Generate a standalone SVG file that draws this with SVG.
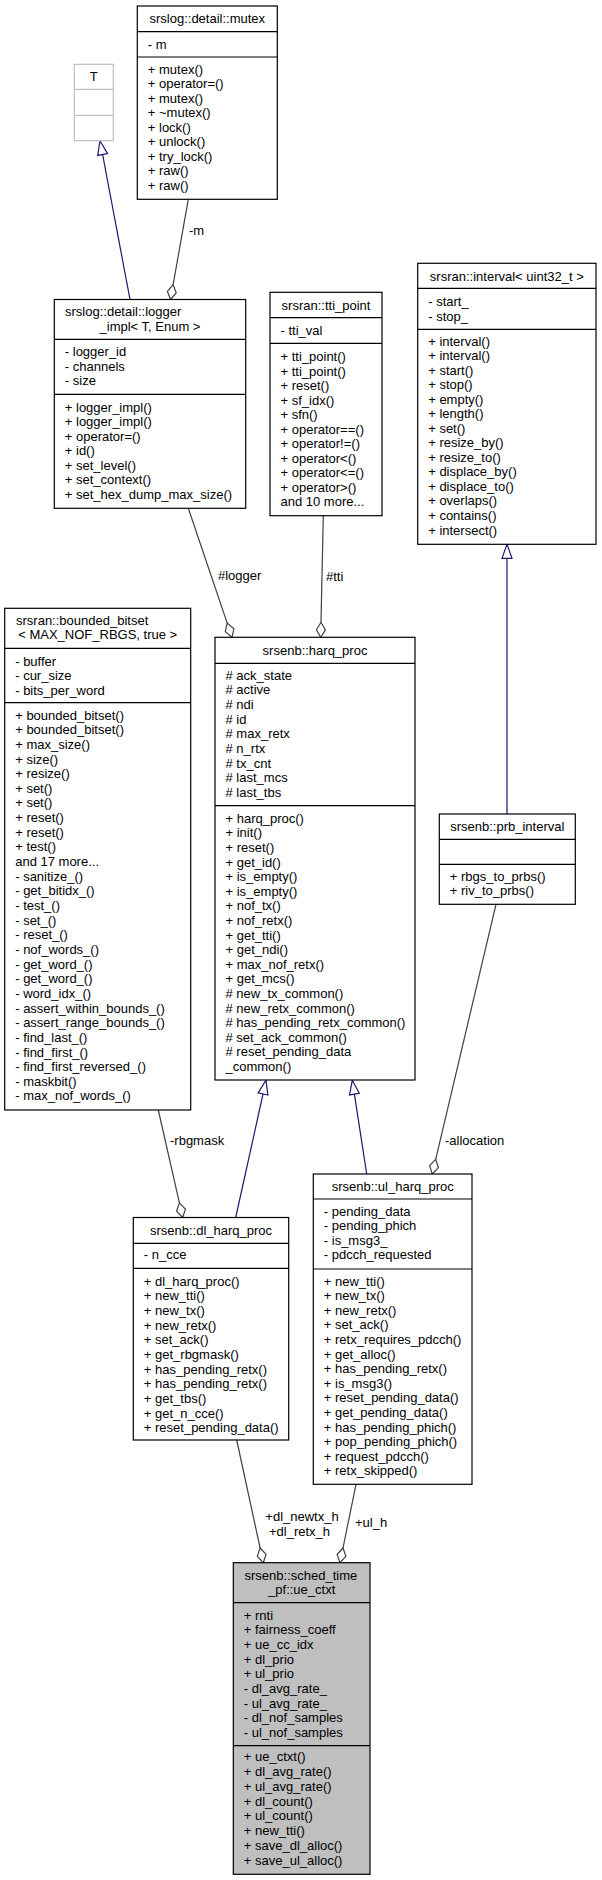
<svg xmlns="http://www.w3.org/2000/svg" width="602" height="1880" viewBox="0 0 602 1880">
<style>
text{font-family:"Liberation Sans",Arial,sans-serif;font-size:13px;fill:#000}
.m{text-anchor:middle}
.box{fill:#fff;stroke:#000;stroke-width:1.2}
.sep{stroke:#000;stroke-width:1.2}
.gbox{fill:#fff;stroke:#bfbfbf;stroke-width:1.2}
.gsep{stroke:#bfbfbf;stroke-width:1.2}
.cur{fill:#bfbfbf;stroke:#000;stroke-width:1.2}
.use{fill:none;stroke:#404040;stroke-width:1.2}
.usehd{fill:#fff;stroke:#404040;stroke-width:1.2}
.inh{fill:none;stroke:#191970;stroke-width:1.2}
.inhhd{fill:#fff;stroke:#191970;stroke-width:1.2}
</style>
<rect width="602" height="1880" fill="#fff"/>

<g id="connectors">
  <!-- T -> logger_impl (inheritance) -->
  <line class="inh" x1="102.6" y1="154.5" x2="130" y2="299.5"/>
  <polygon class="inhhd" points="100,140.7 107.5,153.6 97.7,155.4"/>
  <!-- mutex -> logger_impl (-m) -->
  <line class="use" x1="188.3" y1="199.3" x2="173.1" y2="284.7"/>
  <polygon class="usehd" points="170.5,299.5 176.2,292.9 173.1,284.7 167.4,291.3"/>
  <text x="189" y="235">-m</text>
  <!-- logger_impl -> harq_proc (#logger) -->
  <line class="use" x1="188.3" y1="508.3" x2="227.2" y2="623.1"/>
  <polygon class="usehd" points="232,637.3 233.9,628.8 227.2,623.1 225.3,631.6"/>
  <text x="218" y="580">#logger</text>
  <!-- tti_point -> harq_proc (#tti) -->
  <line class="use" x1="323.3" y1="515.7" x2="321" y2="622.3"/>
  <polygon class="usehd" points="320.7,637.3 325.4,629.9 321,622.3 316.4,629.7"/>
  <text x="326" y="580.5">#tti</text>
  <!-- interval -> prb_interval (inheritance) -->
  <line class="inh" x1="507" y1="558.3" x2="507" y2="814"/>
  <polygon class="inhhd" points="507,544.3 512,558.3 502,558.3"/>
  <!-- prb_interval -> ul_harq_proc (-allocation) -->
  <line class="use" x1="496" y1="904.3" x2="435.7" y2="1159.4"/>
  <polygon class="usehd" points="432.3,1174 438.4,1167.7 435.7,1159.4 429.6,1165.7"/>
  <text x="445" y="1145">-allocation</text>
  <!-- harq_proc -> dl_harq_proc (inheritance) -->
  <line class="inh" x1="263" y1="1094" x2="235.7" y2="1217.5"/>
  <polygon class="inhhd" points="266,1080.3 267.9,1095.1 258.1,1092.9"/>
  <!-- harq_proc -> ul_harq_proc (inheritance) -->
  <line class="inh" x1="354.4" y1="1094.1" x2="366.7" y2="1174"/>
  <polygon class="inhhd" points="352.3,1080.3 359.3,1093.3 349.5,1094.9"/>
  <!-- bounded_bitset -> dl_harq_proc (-rbgmask) -->
  <line class="use" x1="158.3" y1="1110" x2="179.4" y2="1202.9"/>
  <polygon class="usehd" points="182.7,1217.5 185.4,1209.2 179.4,1202.9 176.6,1211.2"/>
  <text x="170" y="1145">-rbgmask</text>
  <!-- dl_harq_proc -> ue_ctxt -->
  <line class="use" x1="236.7" y1="1440" x2="260.1" y2="1548"/>
  <polygon class="usehd" points="263.3,1562.7 266.1,1554.4 260.1,1548 257.3,1556.3"/>
  <text class="m" x="302" y="1520.5">+dl_newtx_h</text>
  <text class="m" x="299.5" y="1535.5">+dl_retx_h</text>
  <!-- ul_harq_proc -> ue_ctxt -->
  <line class="use" x1="356" y1="1484.3" x2="343" y2="1548"/>
  <polygon class="usehd" points="340,1562.7 345.9,1556.3 343,1548 337.1,1554.5"/>
  <text x="355" y="1527">+ul_h</text>
</g>

<g id="node_mutex">
  <rect class="box" x="137.3" y="6" width="140" height="193.3"/>
  <line class="sep" x1="137.3" y1="31.7" x2="277.3" y2="31.7"/>
  <line class="sep" x1="137.3" y1="57" x2="277.3" y2="57"/>
  <text class="m" x="207.3" y="23.3">srslog::detail::mutex</text>
  <text x="147.8" y="48.5">- m</text>
  <text x="147.8" y="73.5">+ mutex()</text>
  <text x="147.8" y="88">+ operator=()</text>
  <text x="147.8" y="102.5">+ mutex()</text>
  <text x="147.8" y="117">+ ~mutex()</text>
  <text x="147.8" y="131.5">+ lock()</text>
  <text x="147.8" y="146">+ unlock()</text>
  <text x="147.8" y="160.5">+ try_lock()</text>
  <text x="147.8" y="175">+ raw()</text>
  <text x="147.8" y="189.5">+ raw()</text>
</g>

<g id="node_T">
  <rect class="gbox" x="74.3" y="64.3" width="39" height="76.4"/>
  <line class="gsep" x1="74.3" y1="89.3" x2="113.3" y2="89.3"/>
  <line class="gsep" x1="74.3" y1="115.3" x2="113.3" y2="115.3"/>
  <text class="m" x="93.8" y="81.3">T</text>
</g>

<g id="node_logger_impl">
  <rect class="box" x="54.3" y="299.5" width="191.4" height="208.8"/>
  <line class="sep" x1="54.3" y1="339.3" x2="245.7" y2="339.3"/>
  <line class="sep" x1="54.3" y1="394.3" x2="245.7" y2="394.3"/>
  <text x="65" y="316.2">srslog::detail::logger</text>
  <text class="m" x="150" y="331.2">_impl&lt; T, Enum &gt;</text>
  <text x="64.8" y="356.2">- logger_id</text>
  <text x="64.8" y="370.7">- channels</text>
  <text x="64.8" y="385.2">- size</text>
  <text x="64.8" y="411.8">+ logger_impl()</text>
  <text x="64.8" y="426.3">+ logger_impl()</text>
  <text x="64.8" y="440.8">+ operator=()</text>
  <text x="64.8" y="455.3">+ id()</text>
  <text x="64.8" y="469.8">+ set_level()</text>
  <text x="64.8" y="484.3">+ set_context()</text>
  <text x="64.8" y="498.8">+ set_hex_dump_max_size()</text>
</g>

<g id="node_tti_point">
  <rect class="box" x="270" y="292.3" width="112" height="223.4"/>
  <line class="sep" x1="270" y1="317.7" x2="382" y2="317.7"/>
  <line class="sep" x1="270" y1="343.3" x2="382" y2="343.3"/>
  <text class="m" x="326" y="309.5">srsran::tti_point</text>
  <text x="280.5" y="334.5">- tti_val</text>
  <text x="280.5" y="361.2">+ tti_point()</text>
  <text x="280.5" y="375.7">+ tti_point()</text>
  <text x="280.5" y="390.2">+ reset()</text>
  <text x="280.5" y="404.7">+ sf_idx()</text>
  <text x="280.5" y="419.2">+ sfn()</text>
  <text x="280.5" y="433.7">+ operator==()</text>
  <text x="280.5" y="448.2">+ operator!=()</text>
  <text x="280.5" y="462.7">+ operator&lt;()</text>
  <text x="280.5" y="477.2">+ operator&lt;=()</text>
  <text x="280.5" y="491.7">+ operator&gt;()</text>
  <text x="280.5" y="506.2">and 10 more...</text>
</g>

<g id="node_interval">
  <rect class="box" x="417.7" y="263.3" width="178.3" height="281"/>
  <line class="sep" x1="417.7" y1="288.3" x2="596" y2="288.3"/>
  <line class="sep" x1="417.7" y1="329.3" x2="596" y2="329.3"/>
  <text class="m" x="506.8" y="281.2">srsran::interval&lt; uint32_t &gt;</text>
  <text x="428.2" y="306.2">- start_</text>
  <text x="428.2" y="320.5">- stop_</text>
  <text x="428.2" y="345.5">+ interval()</text>
  <text x="428.2" y="360">+ interval()</text>
  <text x="428.2" y="374.6">+ start()</text>
  <text x="428.2" y="389.1">+ stop()</text>
  <text x="428.2" y="403.7">+ empty()</text>
  <text x="428.2" y="418.2">+ length()</text>
  <text x="428.2" y="432.7">+ set()</text>
  <text x="428.2" y="447.3">+ resize_by()</text>
  <text x="428.2" y="461.8">+ resize_to()</text>
  <text x="428.2" y="476.4">+ displace_by()</text>
  <text x="428.2" y="490.9">+ displace_to()</text>
  <text x="428.2" y="505.4">+ overlaps()</text>
  <text x="428.2" y="520">+ contains()</text>
  <text x="428.2" y="534.5">+ intersect()</text>
</g>

<g id="node_bounded_bitset">
  <rect class="box" x="4.7" y="608.3" width="186" height="501.7"/>
  <line class="sep" x1="4.7" y1="648.3" x2="190.7" y2="648.3"/>
  <line class="sep" x1="4.7" y1="702.7" x2="190.7" y2="702.7"/>
  <text x="16" y="625.2">srsran::bounded_bitset</text>
  <text class="m" x="97.7" y="638.8">&lt; MAX_NOF_RBGS, true &gt;</text>
  <text x="15.2" y="665.5">- buffer</text>
  <text x="15.2" y="680">- cur_size</text>
  <text x="15.2" y="694.5">- bits_per_word</text>
  <text x="15.2" y="719.5">+ bounded_bitset()</text>
  <text x="15.2" y="734.2">+ bounded_bitset()</text>
  <text x="15.2" y="748.8">+ max_size()</text>
  <text x="15.2" y="763.5">+ size()</text>
  <text x="15.2" y="778.1">+ resize()</text>
  <text x="15.2" y="792.8">+ set()</text>
  <text x="15.2" y="807.4">+ set()</text>
  <text x="15.2" y="822.1">+ reset()</text>
  <text x="15.2" y="836.7">+ reset()</text>
  <text x="15.2" y="851.4">+ test()</text>
  <text x="15.2" y="866">and 17 more...</text>
  <text x="15.2" y="880.7">- sanitize_()</text>
  <text x="15.2" y="895.3">- get_bitidx_()</text>
  <text x="15.2" y="910">- test_()</text>
  <text x="15.2" y="924.6">- set_()</text>
  <text x="15.2" y="939.3">- reset_()</text>
  <text x="15.2" y="953.9">- nof_words_()</text>
  <text x="15.2" y="968.6">- get_word_()</text>
  <text x="15.2" y="983.2">- get_word_()</text>
  <text x="15.2" y="997.9">- word_idx_()</text>
  <text x="15.2" y="1012.5">- assert_within_bounds_()</text>
  <text x="15.2" y="1027.2">- assert_range_bounds_()</text>
  <text x="15.2" y="1041.8">- find_last_()</text>
  <text x="15.2" y="1056.5">- find_first_()</text>
  <text x="15.2" y="1071.1">- find_first_reversed_()</text>
  <text x="15.2" y="1085.8">- maskbit()</text>
  <text x="15.2" y="1100.4">- max_nof_words_()</text>
</g>

<g id="node_harq_proc">
  <rect class="box" x="215" y="637.3" width="200" height="442.7"/>
  <line class="sep" x1="215" y1="663.3" x2="415" y2="663.3"/>
  <line class="sep" x1="215" y1="805.7" x2="415" y2="805.7"/>
  <text class="m" x="315" y="654.8">srsenb::harq_proc</text>
  <text x="225.5" y="679.5"># ack_state</text>
  <text x="225.5" y="694.2"># active</text>
  <text x="225.5" y="708.9"># ndi</text>
  <text x="225.5" y="723.6"># id</text>
  <text x="225.5" y="738.3"># max_retx</text>
  <text x="225.5" y="753"># n_rtx</text>
  <text x="225.5" y="767.7"># tx_cnt</text>
  <text x="225.5" y="782.4"># last_mcs</text>
  <text x="225.5" y="797.1"># last_tbs</text>
  <text x="225.5" y="822.8">+ harq_proc()</text>
  <text x="225.5" y="837.4">+ init()</text>
  <text x="225.5" y="852">+ reset()</text>
  <text x="225.5" y="866.6">+ get_id()</text>
  <text x="225.5" y="881.2">+ is_empty()</text>
  <text x="225.5" y="895.8">+ is_empty()</text>
  <text x="225.5" y="910.4">+ nof_tx()</text>
  <text x="225.5" y="925">+ nof_retx()</text>
  <text x="225.5" y="939.6">+ get_tti()</text>
  <text x="225.5" y="954.2">+ get_ndi()</text>
  <text x="225.5" y="968.8">+ max_nof_retx()</text>
  <text x="225.5" y="983.4">+ get_mcs()</text>
  <text x="225.5" y="998"># new_tx_common()</text>
  <text x="225.5" y="1012.6"># new_retx_common()</text>
  <text x="225.5" y="1027.2"># has_pending_retx_common()</text>
  <text x="225.5" y="1041.8"># set_ack_common()</text>
  <text x="225.5" y="1056.4"># reset_pending_data</text>
  <text x="225.5" y="1071">_common()</text>
</g>

<g id="node_prb_interval">
  <rect class="box" x="439.3" y="814" width="136" height="90.3"/>
  <line class="sep" x1="439.3" y1="839.3" x2="575.3" y2="839.3"/>
  <line class="sep" x1="439.3" y1="864.3" x2="575.3" y2="864.3"/>
  <text class="m" x="507.3" y="831">srsenb::prb_interval</text>
  <text x="449.8" y="881.2">+ rbgs_to_prbs()</text>
  <text x="449.8" y="895.3">+ riv_to_prbs()</text>
</g>

<g id="node_dl_harq_proc">
  <rect class="box" x="133.3" y="1217.5" width="155.4" height="222.5"/>
  <line class="sep" x1="133.3" y1="1243.3" x2="288.7" y2="1243.3"/>
  <line class="sep" x1="133.3" y1="1268.3" x2="288.7" y2="1268.3"/>
  <text class="m" x="211" y="1234.9">srsenb::dl_harq_proc</text>
  <text x="143.8" y="1258.8">- n_cce</text>
  <text x="143.8" y="1285.5">+ dl_harq_proc()</text>
  <text x="143.8" y="1300.2">+ new_tti()</text>
  <text x="143.8" y="1314.8">+ new_tx()</text>
  <text x="143.8" y="1329.5">+ new_retx()</text>
  <text x="143.8" y="1344.2">+ set_ack()</text>
  <text x="143.8" y="1358.9">+ get_rbgmask()</text>
  <text x="143.8" y="1373.5">+ has_pending_retx()</text>
  <text x="143.8" y="1388.2">+ has_pending_retx()</text>
  <text x="143.8" y="1402.9">+ get_tbs()</text>
  <text x="143.8" y="1417.5">+ get_n_cce()</text>
  <text x="143.8" y="1432.2">+ reset_pending_data()</text>
</g>

<g id="node_ul_harq_proc">
  <rect class="box" x="313.3" y="1174" width="158.7" height="310.3"/>
  <line class="sep" x1="313.3" y1="1199" x2="472" y2="1199"/>
  <line class="sep" x1="313.3" y1="1269" x2="472" y2="1269"/>
  <text class="m" x="392.7" y="1190.5">srsenb::ul_harq_proc</text>
  <text x="323.8" y="1215.5">- pending_data</text>
  <text x="323.8" y="1230.1">- pending_phich</text>
  <text x="323.8" y="1244.7">- is_msg3_</text>
  <text x="323.8" y="1259.1">- pdcch_requested</text>
  <text x="323.8" y="1285.5">+ new_tti()</text>
  <text x="323.8" y="1300.1">+ new_tx()</text>
  <text x="323.8" y="1314.7">+ new_retx()</text>
  <text x="323.8" y="1329.3">+ set_ack()</text>
  <text x="323.8" y="1343.9">+ retx_requires_pdcch()</text>
  <text x="323.8" y="1358.5">+ get_alloc()</text>
  <text x="323.8" y="1373.1">+ has_pending_retx()</text>
  <text x="323.8" y="1387.7">+ is_msg3()</text>
  <text x="323.8" y="1402.3">+ reset_pending_data()</text>
  <text x="323.8" y="1416.9">+ get_pending_data()</text>
  <text x="323.8" y="1431.5">+ has_pending_phich()</text>
  <text x="323.8" y="1446.1">+ pop_pending_phich()</text>
  <text x="323.8" y="1460.7">+ request_pdcch()</text>
  <text x="323.8" y="1475.3">+ retx_skipped()</text>
</g>

<g id="node_ue_ctxt">
  <rect class="cur" x="233.3" y="1562.7" width="136.7" height="311.6"/>
  <line class="sep" x1="233.3" y1="1602.7" x2="370" y2="1602.7"/>
  <line class="sep" x1="233.3" y1="1745.7" x2="370" y2="1745.7"/>
  <text x="244.5" y="1579.5">srsenb::sched_time</text>
  <text class="m" x="301.7" y="1593.8">_pf::ue_ctxt</text>
  <text x="243.8" y="1619.5">+ rnti</text>
  <text x="243.8" y="1634.2">+ fairness_coeff</text>
  <text x="243.8" y="1648.8">+ ue_cc_idx</text>
  <text x="243.8" y="1663.5">+ dl_prio</text>
  <text x="243.8" y="1678.1">+ ul_prio</text>
  <text x="243.8" y="1692.8">- dl_avg_rate_</text>
  <text x="243.8" y="1707.5">- ul_avg_rate_</text>
  <text x="243.8" y="1722.1">- dl_nof_samples</text>
  <text x="243.8" y="1736.8">- ul_nof_samples</text>
  <text x="243.8" y="1761.2">+ ue_ctxt()</text>
  <text x="243.8" y="1776">+ dl_avg_rate()</text>
  <text x="243.8" y="1790.7">+ ul_avg_rate()</text>
  <text x="243.8" y="1805.5">+ dl_count()</text>
  <text x="243.8" y="1820.2">+ ul_count()</text>
  <text x="243.8" y="1835">+ new_tti()</text>
  <text x="243.8" y="1849.8">+ save_dl_alloc()</text>
  <text x="243.8" y="1864.5">+ save_ul_alloc()</text>
</g>
</svg>
